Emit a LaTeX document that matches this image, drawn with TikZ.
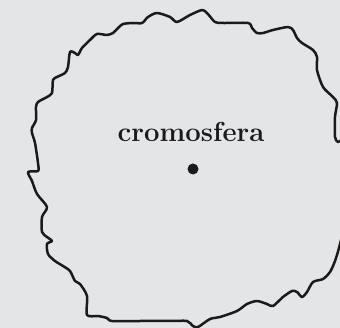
\documentclass[tikz,border=0pt]{standalone}
\definecolor{bggray}{RGB}{228,229,231}
\definecolor{ink}{RGB}{26,26,26}
\tikzset{
  outline/.style={draw=ink,line width=2.5pt,line join=round,line cap=round},
  label/.style={text=ink,font=\fontsize{27.5}{30}\selectfont\bfseries,inner sep=0pt,anchor=base},
  dotmark/.style={circle,fill=ink,inner sep=0pt,minimum size=11pt}
}
\begin{document}
\begin{tikzpicture}[x=1pt,y=-1pt]
\useasboundingbox (0,0) rectangle (340,328);
\fill[bggray] (0,0) rectangle (340,328);
\clip (0,0) rectangle (340,328);
\draw[outline] plot[smooth cycle,tension=0.45] coordinates {
(170,17)(157,13)(148,17)(142,23)(133,23)(123,24)(118,28)(113,33)(107,35)(97,34)
(90,40)(82,48)(78,55)(75,53)(70,52)(68,67)(65,73)(57,77)(53,80)(52,93)
(47,97)(38,102)(36,107)(36,120)(32,128)(32,133)(35,143)(38,163)(38,171)(28,172)
(32,181)(37,194)(47,207)(42,217)(42,232)(47,237)(52,241)(47,244)(48,254)(55,261)
(63,266)(70,271)(75,281)(80,284)(87,296)(87,315)(98,316)(107,318)(112,321)(140,321)
(170,321)(187,321)(193,326)(198,327)(210,319)(220,317)(237,311)(247,304)(257,301)(267,304)
(273,306)(283,297)(292,291)(297,292)(302,297)(307,292)(313,282)(323,279)(330,272)(335,261)
(340,244)(350,200)(345,143)(338,142)(335,137)(335,117)(337,103)(333,97)(323,87)(317,70)
(317,57)(313,50)(302,43)(297,38)(293,30)(288,27)(273,30)(263,33)(257,33)(252,28)
(248,23)(223,23)(215,22)(207,13)(202,10)(190,15)(177,22)};
\node[label] (t) at (191,142) {cromosfera};
\node[dotmark] (d) at (193,169) {};
\end{tikzpicture}
\end{document}
